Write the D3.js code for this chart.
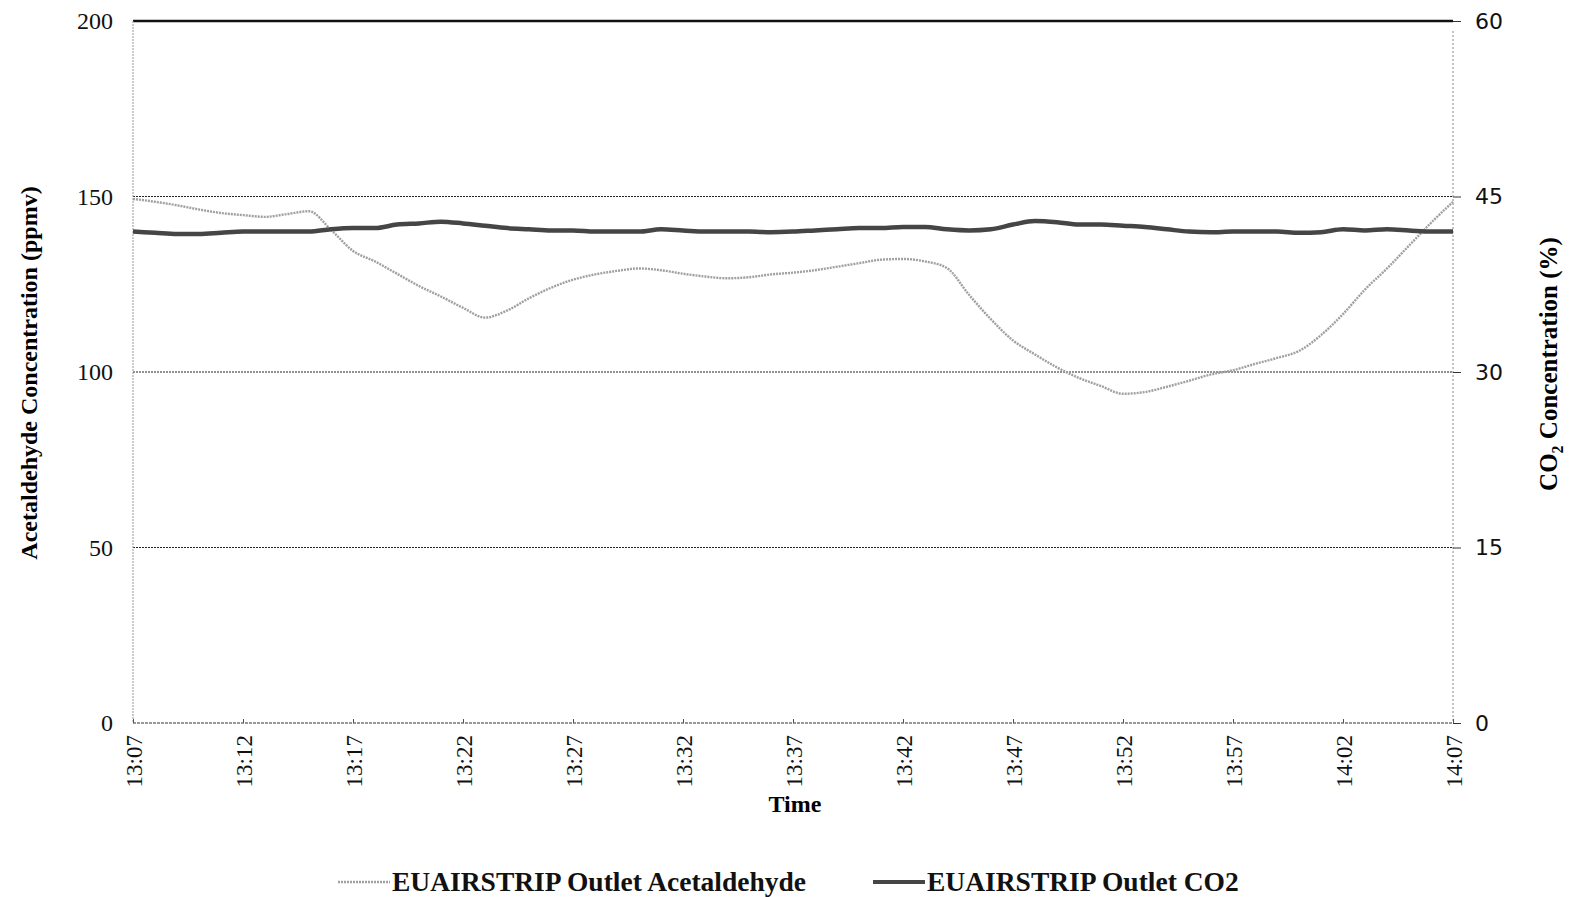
<!DOCTYPE html>
<html><head><meta charset="utf-8">
<script src="https://cdn.jsdelivr.net/npm/d3@7"></script>
<style>body{margin:0;background:#fff;}svg{display:block;}</style>
</head><body>
<svg id="chart" width="1570" height="897"></svg>
<script>
// minutes after 13:07
const minutes = d3.range(0, 61);
const acetaldehyde = [149.3,148.5,147.5,146.3,145.3,144.7,144.2,145,145.8,140.5,
 134.5,131.5,128,124.5,121.5,118.3,115.5,117.5,121,124,
 126.3,127.8,128.8,129.5,129,128,127.2,126.7,127,127.8,
 128.3,129,130,131,132,132.2,131.5,129.6,122,115,
 109,105,101.3,98.3,96,93.8,94.3,95.8,97.5,99.3,
 100.5,102.3,104,106,110.5,116.5,123.5,129.5,136,142.5,148.5];
const co2 = [42.0,41.9,41.8,41.8,41.9,42.0,42.0,42.0,42.0,42.2,
 42.3,42.3,42.6,42.7,42.85,42.7,42.5,42.3,42.2,42.1,
 42.1,42.0,42.0,42.0,42.2,42.1,42.0,42.0,42.0,41.95,
 42.0,42.1,42.2,42.3,42.3,42.4,42.4,42.2,42.1,42.2,
 42.6,42.9,42.8,42.6,42.6,42.5,42.4,42.2,42.0,41.95,
 42.0,42.0,42.0,41.9,41.95,42.2,42.1,42.2,42.1,42.0,42.0];
const xTickMinutes = [0,5,10,15,20,25,30,35,40,45,50,55,60];
const xTickLabels = ["13:07","13:12","13:17","13:22","13:27","13:32","13:37","13:42","13:47","13:52","13:57","14:02","14:07"];
const leftTicks = [0,50,100,150,200];
const rightTicks = [0,15,30,45,60];
const seriesNames = ["EUAIRSTRIP Outlet Acetaldehyde","EUAIRSTRIP Outlet CO2"];

const svg = d3.select("#chart");
const L = 133, R = 1453, T = 21, B = 723;
const x = d3.scaleLinear().domain([0,60]).range([L,R]);
const yL = d3.scaleLinear().domain([0,200]).range([B,T]);
const yR = d3.scaleLinear().domain([0,60]).range([B,T]);
const serif = "'Liberation Serif','Times New Roman',serif";

// gridlines
svg.append("g").selectAll("line").data([50,100,150]).join("line")
  .attr("x1",L).attr("x2",R).attr("y1",d=>yL(d)).attr("y2",d=>yL(d))
  .attr("stroke","#222").attr("stroke-width",1).attr("stroke-dasharray","2,1");
// top border
svg.append("line").attr("x1",L).attr("x2",R).attr("y1",T).attr("y2",T)
  .attr("stroke","#111").attr("stroke-width",2.5);
// left axis line
svg.append("line").attr("x1",L).attr("x2",L).attr("y1",T).attr("y2",B)
  .attr("stroke","#999").attr("stroke-width",1).attr("stroke-dasharray","2,1");
// right axis line
svg.append("line").attr("x1",R).attr("x2",R).attr("y1",T+10).attr("y2",B)
  .attr("stroke","#888").attr("stroke-width",1).attr("stroke-dasharray","2,2");

// left axis
const gl = svg.append("g").attr("transform",`translate(${L},0)`)
  .call(d3.axisLeft(yL).tickValues(leftTicks).tickSize(0).tickPadding(20));
gl.select(".domain").remove();
gl.selectAll("text").attr("font-family",serif).attr("font-size",24).attr("fill","#111");

// right axis
const gr = svg.append("g").attr("transform",`translate(${R},0)`)
  .call(d3.axisRight(yR).tickValues(rightTicks).tickSize(8).tickPadding(14));
gr.select(".domain").remove();
gr.selectAll("line").attr("stroke","#333");
gr.selectAll("text").attr("font-family","'DejaVu Sans',Verdana,sans-serif").attr("font-size",22).attr("fill","#111");

// bottom axis
svg.append("line").attr("x1",L).attr("x2",R).attr("y1",B).attr("y2",B)
  .attr("stroke","#333").attr("stroke-width",1.2).attr("stroke-dasharray","3,1");
const gb = svg.append("g").attr("transform",`translate(0,${B})`)
  .call(d3.axisBottom(x).tickValues(xTickMinutes).tickFormat((d,i)=>xTickLabels[i]).tickSize(0));
gb.select(".domain").remove();
gb.selectAll(".tick").append("line").attr("y1",0).attr("y2",-4).attr("stroke","#555");
gb.selectAll("text").attr("font-family",serif).attr("font-size",23).attr("fill","#111")
  .attr("transform","rotate(-90)").attr("text-anchor","end")
  .attr("x",-12).attr("y",0).attr("dy","0.35em");

// lines
const lineA = d3.line().x((d,i)=>x(minutes[i])).y(d=>yL(d)).curve(d3.curveMonotoneX);
const lineC = d3.line().x((d,i)=>x(minutes[i])).y(d=>yR(d)).curve(d3.curveMonotoneX);
svg.append("path").datum(acetaldehyde).attr("d",lineA).attr("fill","none")
  .attr("stroke","#a0a0a0").attr("stroke-width",2.4).attr("stroke-dasharray","2,1");
svg.append("path").datum(co2).attr("d",lineC).attr("fill","none")
  .attr("stroke","#454545").attr("stroke-width",4.5);

// axis titles
svg.append("text").attr("x",795).attr("y",812).attr("text-anchor","middle")
  .attr("font-family",serif).attr("font-weight","bold").attr("font-size",24).text("Time");
svg.append("text").attr("transform","translate(37,373) rotate(-90)").attr("text-anchor","middle")
  .attr("font-family",serif).attr("font-weight","bold").attr("font-size",24)
  .text("Acetaldehyde Concentration (ppmv)");
const rt = svg.append("text").attr("transform","translate(1557,364) rotate(-90)").attr("text-anchor","middle")
  .attr("font-family",serif).attr("font-weight","bold").attr("font-size",25);
rt.append("tspan").text("CO");
rt.append("tspan").attr("font-size",16).attr("dy",6).text("2");
rt.append("tspan").attr("dy",-6).text(" Concentration (%)");

// legend
const leg = [{x:338, c:"#a0a0a0", w:2.4, dash:"2,1"},{x:873, c:"#454545", w:4, dash:null}];
leg.forEach((l,i)=>{
  svg.append("line").attr("x1",l.x).attr("x2",l.x+52).attr("y1",882).attr("y2",882)
    .attr("stroke",l.c).attr("stroke-width",l.w).attr("stroke-dasharray",l.dash);
  svg.append("text").attr("x",l.x+54).attr("y",891).attr("font-family",serif)
    .attr("font-weight","bold").attr("font-size",27.5).attr("fill","#111").text(seriesNames[i]);
});
</script>
</body></html>
